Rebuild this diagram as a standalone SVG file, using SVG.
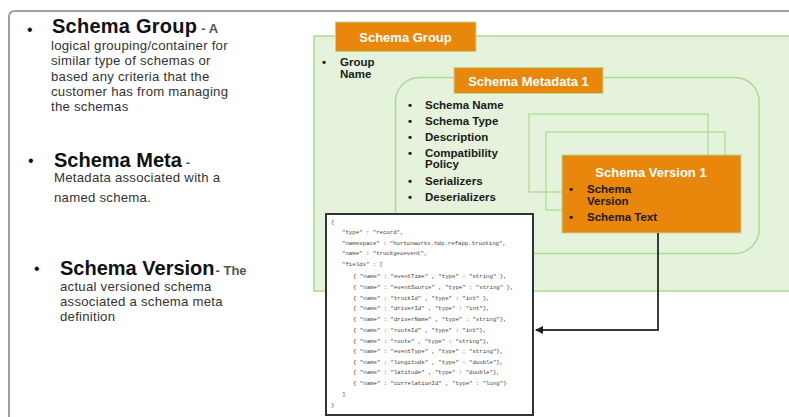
<svg xmlns="http://www.w3.org/2000/svg" width="789" height="417" viewBox="0 0 789 417">
<style>
.frame{fill:none;stroke:#a0a0a0;stroke-width:2}
.grp{fill:#e5f3dc;stroke:#a9dc8e;stroke-width:1.5}
.ln{fill:none;stroke:#a9dc8e;stroke-width:1.2}
.org{fill:#e8870b;stroke:#b8d890;stroke-width:1}
.lbl{font-family:"Liberation Sans",Arial,sans-serif;font-weight:bold;font-size:13px;fill:#ffffff;text-anchor:middle}
.it{font-family:"Liberation Sans",Arial,sans-serif;font-weight:bold;font-size:11.5px;fill:#1a1a1a}
.tt{font-family:"Liberation Sans",Arial,sans-serif;font-weight:bold;font-size:20px;fill:#111}
.sub{font-family:"Liberation Sans",Arial,sans-serif;font-weight:bold;font-size:13px;fill:#555}
.ds{font-family:"Liberation Sans",Arial,sans-serif;font-size:13.2px;letter-spacing:0.25px;fill:#333}
.bl{font-family:"Liberation Sans",Arial,sans-serif;font-size:16px;fill:#111}
.code{font-family:"Liberation Mono","Courier New",monospace;font-size:5.7px;fill:#444}
.conn{fill:none;stroke:#3a3a3a;stroke-width:2}
</style>
<defs>
<marker id="ah" markerWidth="8" markerHeight="8" refX="7" refY="4" orient="auto" markerUnits="userSpaceOnUse">
<path d="M0,0 L8,4 L0,8 Z" fill="#222"/>
</marker>
</defs>
<rect width="789" height="417" fill="#ffffff"/>
<path class="frame" d="M9,417 V17 Q9,11 15,11 H789"/>

<g id="left-text">
<text class="bl" x="27" y="35">•</text>
<text x="52" y="33"><tspan class="tt" textLength="145">Schema Group</tspan><tspan class="sub" dx="4">- A</tspan></text>
<text class="ds" x="51" y="50">logical grouping/container for</text>
<text class="ds" x="51" y="65">similar type of schemas or</text>
<text class="ds" x="51" y="81">based any criteria that the</text>
<text class="ds" x="51" y="96">customer has from managing</text>
<text class="ds" x="51" y="111">the schemas</text>

<text class="bl" x="28" y="166">•</text>
<text x="54" y="167"><tspan class="tt">Schema Meta</tspan><tspan class="sub" dx="4">-</tspan></text>
<text class="ds" x="54" y="182">Metadata associated with a</text>
<text class="ds" x="54" y="202">named schema.</text>

<text class="bl" x="34" y="274">•</text>
<text x="60" y="275"><tspan class="tt">Schema Version</tspan><tspan class="sub" dx="1" font-size="14">- The</tspan></text>
<text class="ds" x="60" y="291">actual versioned schema</text>
<text class="ds" x="60" y="306">associated a schema meta</text>
<text class="ds" x="60" y="321">definition</text>
</g>

<g id="schema-group">
<rect class="grp" x="314" y="36" width="480" height="255"/>
<rect class="org" x="335.5" y="22" width="140.5" height="29.5"/>
<text class="lbl" x="405.5" y="41.5">Schema Group</text>
<text class="it" x="322" y="66">•</text>
<text class="it" x="340" y="66">Group</text>
<text class="it" x="340" y="78">Name</text>
</g>

<g id="schema-metadata">
<rect class="grp" x="395.5" y="77.5" width="363.5" height="176" rx="24" ry="24"/>
<rect class="ln" x="529" y="114" width="179" height="78"/>
<rect class="ln" x="546" y="132" width="179" height="78"/>
<rect class="org" x="454" y="67.5" width="149" height="26"/>
<text class="lbl" x="528.5" y="85.5">Schema Metadata 1</text>
<text class="it" x="408" y="109">•</text><text class="it" x="425" y="109">Schema Name</text>
<text class="it" x="408" y="125">•</text><text class="it" x="425" y="125">Schema Type</text>
<text class="it" x="408" y="141">•</text><text class="it" x="425" y="141">Description</text>
<text class="it" x="408" y="157">•</text><text class="it" x="425" y="157">Compatibility</text>
<text class="it" x="425" y="168">Policy</text>
<text class="it" x="408" y="185">•</text><text class="it" x="425" y="185">Serializers</text>
<text class="it" x="408" y="201">•</text><text class="it" x="425" y="201">Deserializers</text>
</g>

<g id="schema-version">
<rect class="org" x="562" y="155" width="179" height="78"/>
<text class="lbl" x="651" y="177">Schema Version 1</text>
<text class="it" x="569" y="193">•</text><text class="it" x="587" y="193">Schema</text>
<text class="it" x="587" y="205">Version</text>
<text class="it" x="569" y="221">•</text><text class="it" x="587" y="221">Schema Text</text>
</g>

<g id="schema-text">
<rect x="326" y="214" width="207" height="201" fill="#ffffff" stroke="#333" stroke-width="2"/>
<text class="code" x="331" y="224">{</text>
<text class="code" x="342" y="234">"type" : "record",</text>
<text class="code" x="342" y="244.5">"namespace" : "hortonworks.hdp.refapp.trucking",</text>
<text class="code" x="342" y="255">"name" : "truckgeoevent",</text>
<text class="code" x="342" y="265.5">"fields" : [</text>
<text class="code" x="353" y="278">{ "name" : "eventTime" , "type" : "string" },</text>
<text class="code" x="353" y="289">{ "name" : "eventSource" , "type" : "string" },</text>
<text class="code" x="353" y="299.5">{ "name" : "truckId" , "type" : "int" },</text>
<text class="code" x="353" y="310">{ "name" : "driverId" , "type" : "int"},</text>
<text class="code" x="353" y="321">{ "name" : "driverName" , "type" : "string"},</text>
<text class="code" x="353" y="332">{ "name" : "routeId" , "type" : "int"},</text>
<text class="code" x="353" y="342.5">{ "name" : "route" , "type" : "string"},</text>
<text class="code" x="353" y="353">{ "name" : "eventType" , "type" : "string"},</text>
<text class="code" x="353" y="363.5">{ "name" : "longitude" , "type" : "double"},</text>
<text class="code" x="353" y="374">{ "name" : "latitude" , "type" : "double"},</text>
<text class="code" x="353" y="385">{ "name" : "correlationId" , "type" : "long"}</text>
<text class="code" x="342" y="396">]</text>
<text class="code" x="331" y="407">}</text>
</g>

<g id="connectors">
<path class="conn" d="M658,233 V330 H536" marker-end="url(#ah)"/>
</g>
</svg>
